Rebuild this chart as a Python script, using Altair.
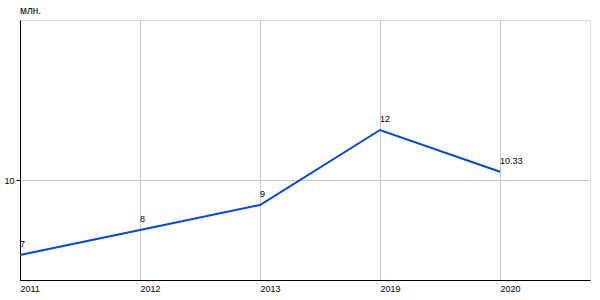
import altair as alt
import pandas as pd

years = ["2011", "2012", "2013", "2019", "2020"]
values = [7, 8, 9, 12, 10.33]
labels = ["7", "8", "9", "12", "10.33"]

df = pd.DataFrame({"idx": list(range(len(years))), "year": years, "value": values, "label": labels})

label_expr = "[" + ",".join(f"'{y}'" for y in years) + "][datum.value]"

x = alt.X("idx:Q", scale=alt.Scale(domain=[0, 4.75], nice=False, zero=False),
          axis=alt.Axis(values=list(range(len(years))), labelExpr=label_expr, title=None,
                        grid=True, gridColor="#c8c8c8", ticks=False, labelAlign="left",
                        labelPadding=4, labelFontSize=9, labelColor="#000", labelFont="Liberation Sans",
                        domainColor="#000", labelBound=False, labelFlush=False, labelOverlap=False))
y = alt.Y("value:Q", scale=alt.Scale(domain=[6, 16.4], nice=False, zero=False),
          axis=alt.Axis(values=[10], title=None, grid=True, gridColor="#c8c8c8", tickSize=4,
                        tickColor="#000", labelPadding=2, labelFontSize=9, labelColor="#000",
                        labelFont="Liberation Sans", domainColor="#000"))

line = alt.Chart(df).mark_line(color="#0048e0", strokeWidth=2).encode(x=x, y=y)
text = alt.Chart(df).mark_text(align="left", baseline="bottom", dx=0, dy=-6, fontSize=9,
                                font="Liberation Sans", color="#000").encode(
    x="idx:Q", y="value:Q", text="label:N")

chart = (line + text).properties(
    width=570, height=260,
    title=alt.TitleParams(text="млн.", anchor="start", frame="group", fontSize=10, fontWeight="normal",
                          font="Liberation Sans", color="#000", offset=4),
    autosize=alt.AutoSizeParams(type="none"),
    padding={"left": 20, "top": 20, "right": 10, "bottom": 20},
).configure_view(fill="#ebebeb", stroke=None).configure(background="#ffffff")

chart.save("out.html", embed_options={"renderer": "svg", "actions": False})
